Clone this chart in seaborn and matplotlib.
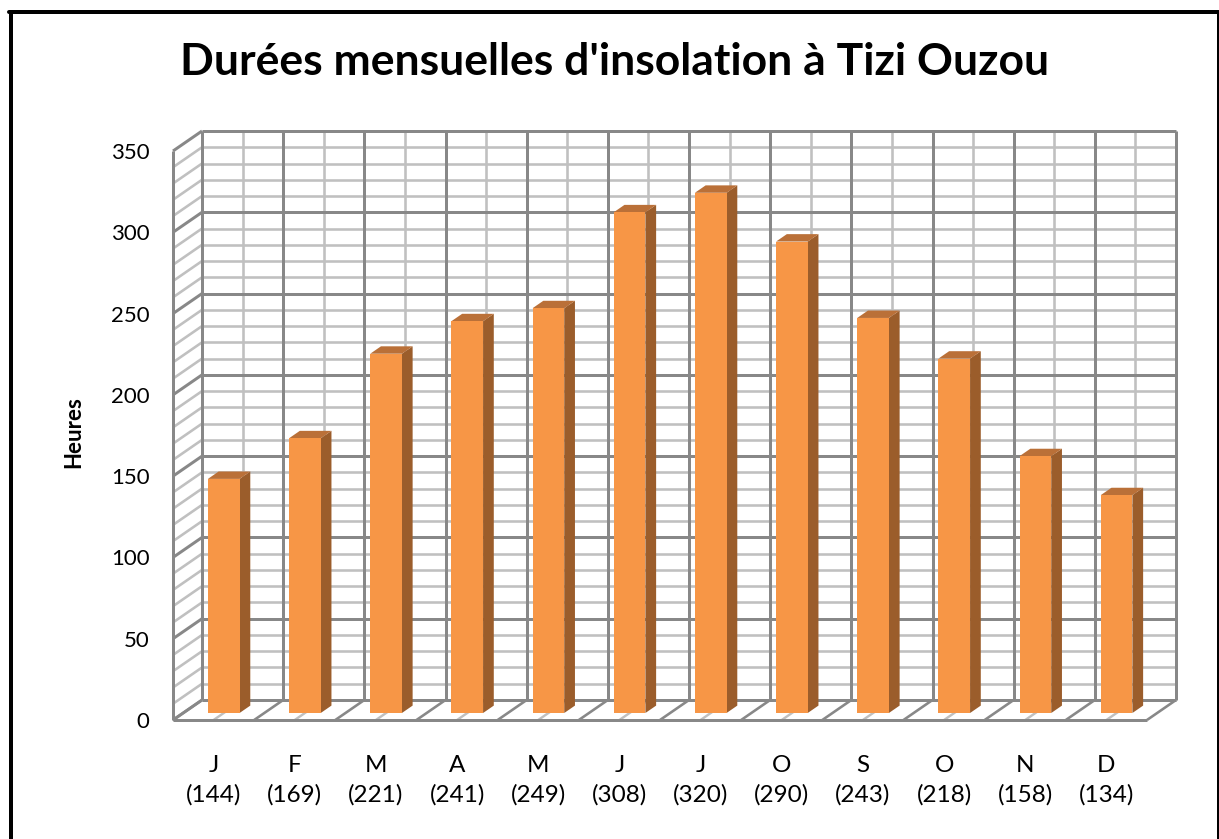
import matplotlib
matplotlib.use("Agg")
import matplotlib.pyplot as plt
import seaborn as sns
from matplotlib.patches import Polygon
from matplotlib.lines import Line2D

# Monthly sunshine duration (hours)
months = ["J", "F", "M", "A", "M", "J", "J", "O", "S", "O", "N", "D"]
hours = [144, 169, 221, 241, 249, 308, 320, 290, 243, 218, 158, 134]
y_ticks = [0, 50, 100, 150, 200, 250, 300, 350]
title = "Durées mensuelles d'insolation à Tizi Ouzou"
y_label = "Heures"

labels = [f"{m}\n({v})" for m, v in zip(months, hours)]

sns.set_style("white")
plt.rcParams["font.family"] = ["Lato", "DejaVu Sans"]
plt.rcParams["text.color"] = "black"
plt.rcParams["xtick.color"] = "black"
plt.rcParams["ytick.color"] = "black"
plt.rcParams["axes.labelcolor"] = "black"

W, H = 1219, 839
fig = plt.figure(figsize=(W / 100, H / 100), dpi=100)
fig.patch.set_facecolor("white")

# front plane of the 3-D box: x -0.5..11.5, y 0..350
ax = fig.add_axes([173 / W, (H - 720) / H, 974 / W, 569 / H])

FRONT = "#F79646"
SIDE = "#9B5D2B"
TOP = "#BA7038"
MAJOR = "#888888"
MINOR = "#C0C0C0"

sns.barplot(x=labels, y=hours, ax=ax, color=FRONT, width=0.39,
            saturation=1, zorder=6, linewidth=0)
ax.set_xlim(-0.5, 11.5)
ax.set_ylim(0, 350)
ax.set_yticks(y_ticks)
ax.set_xlabel("")
for s in ax.spines.values():
    s.set_visible(False)
ax.set_facecolor("none")

# oblique depth of the box in data units
px_x = 974 / 12.0
px_y = 569 / 350.0
DX = 29 / px_x
DY = 20 / px_y

ncat = len(hours)
x0, x1 = -0.5, ncat - 0.5
lw_px = 0.72


def seg(xs, ys, color, lw, z):
    ax.add_line(Line2D(xs, ys, color=color, lw=lw * lw_px, zorder=z,
                       clip_on=False, solid_capstyle="butt"))


# back wall: horizontal grid every 10, darker every 50
for v in range(0, 351, 10):
    major = v % 50 == 0
    c, lw = (MAJOR, 3.0) if major else (MINOR, 2.6)
    z = 2 if major else 1
    seg([x0 + DX, x1 + DX], [v + DY, v + DY], c, lw, z)
    # left wall
    seg([x0, x0 + DX], [v, v + DY], c, lw, z)

# back wall: vertical grid at category edges and centres
for k in range(ncat + 1):
    seg([k - 0.5 + DX] * 2, [DY, 350 + DY], MAJOR, 3.0, 2)
    # floor diagonals at category edges
    seg([k - 0.5, k - 0.5 + DX], [0, DY], MAJOR, 2.6, 2)
for k in range(ncat):
    seg([k + DX] * 2, [DY, 350 + DY], MINOR, 2.6, 1)
    seg([k, k + DX], [0, DY], MINOR, 2.4, 1)

# box edges
seg([x0, x0], [0, 350], MAJOR, 3.0, 3)
seg([x0, x1], [0, 0], MAJOR, 3.0, 3)

# bars with side and top faces
f0, f1 = 0.35, 0.72
bdx, bdy = (f1 - f0) * DX, (f1 - f0) * DY
for p in ax.patches[:ncat]:
    xa = p.get_x() + f0 * DX
    w = p.get_width()
    h = p.get_height()
    ya = f0 * DY
    p.set_x(xa)
    p.set_y(ya)
    p.set_clip_on(False)
    side = Polygon([(xa + w, ya), (xa + w, ya + h), (xa + w + bdx, ya + h + bdy),
                    (xa + w + bdx, ya + bdy)], closed=True, facecolor=SIDE,
                   edgecolor="none", zorder=5, clip_on=False)
    top = Polygon([(xa, ya + h), (xa + w, ya + h), (xa + w + bdx, ya + h + bdy),
                   (xa + bdx, ya + h + bdy)], closed=True, facecolor=TOP,
                  edgecolor="none", zorder=5, clip_on=False)
    ax.add_patch(side)
    ax.add_patch(top)

ax.tick_params(axis="y", length=0, labelsize=16, pad=17)
ax.tick_params(axis="x", length=0, labelsize=17.5, pad=25)
for t in ax.get_xticklabels():
    t.set_linespacing(1.45)

ax.set_ylabel(y_label, fontsize=16, fontweight="bold", va="center", ha="center")
ax.yaxis.set_label_coords((74 - 173) / 974, (720 - 432) / 569)

fig.text(615 / W, 1 - 62 / H, title, ha="center", va="center",
         fontsize=32, fontweight="bold")

# chart frame
fig.add_artist(Line2D([10.5 / W, 10.5 / W], [0, 1 - 12 / H], color="black",
                      lw=4 * lw_px, transform=fig.transFigure))
fig.add_artist(Line2D([8.5 / W, 1219 / W], [1 - 12 / H, 1 - 12 / H], color="black",
                      lw=4 * lw_px, transform=fig.transFigure))
fig.add_artist(Line2D([1217.5 / W, 1217.5 / W], [0, 1 - 12 / H], color="black",
                      lw=3 * lw_px, transform=fig.transFigure))

fig.savefig("out.png", dpi=100, facecolor="white")
